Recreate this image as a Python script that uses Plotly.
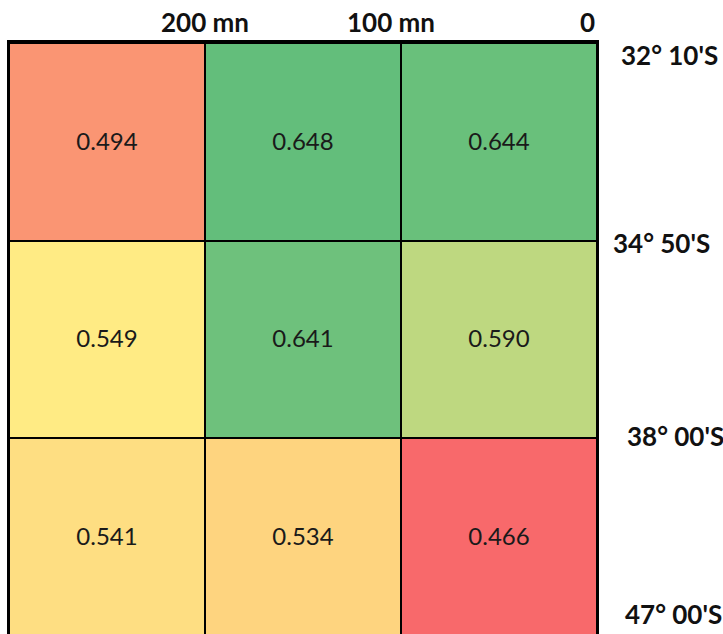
import plotly.graph_objects as go

# Data
col_labels = ["200 mn", "100 mn", "0"]          # distance boundaries (top)
row_labels = ["32° 10'S", "34° 50'S", "38° 00'S", "47° 00'S"]  # latitude boundaries (right)
row1 = [0.494, 0.648, 0.644]
row2 = [0.549, 0.641, 0.590]
row3 = [0.541, 0.534, 0.466]

z = [row1, row2, row3]
allv = row1 + row2 + row3
zmin, zmax = min(allv), max(allv)
zmid = sorted(allv)[len(allv) // 2]
mid = (zmid - zmin) / (zmax - zmin)

colorscale = [[0, "#F8696B"], [mid, "#FFEB84"], [1, "#63BE7B"]]

fig = go.Figure(go.Heatmap(
    z=z, x=[0, 1, 2], y=[0, 1, 2],
    colorscale=colorscale, zmin=zmin, zmax=zmax, showscale=False,
    xgap=2, ygap=2,
    texttemplate="%{z:.3f}",
    textfont=dict(family="Lato, Open Sans, sans-serif", size=24, color="#1a1a1a"),
    hoverinfo="skip",
))

label_font = dict(family="Lato, Open Sans, sans-serif", size=26, color="#111111")

# top labels at column boundaries
col_bounds = [0.5, 1.5, 2.5]
col_anchor = ["center", "center", "right"]
col_xshift = [0, -10, 0]
for lbl, xb, anc, xs in zip(col_labels, col_bounds, col_anchor, col_xshift):
    fig.add_annotation(text=f"<b>{lbl}</b>", x=xb, xref="x", y=1, yref="paper",
                       yanchor="bottom", xanchor=anc, xshift=xs, yshift=3,
                       showarrow=False, font=label_font)

# right labels at row boundaries (paper fractions of the 3 rows)
n_rows = len(row_labels) - 1
row_yshift = [-12, -3, 1, 20]
row_xshift = [22, 14, 28, 26]
for i, (lbl, ys, xs) in enumerate(zip(row_labels, row_yshift, row_xshift)):
    fig.add_annotation(text=f"<b>{lbl}</b>", x=1, xref="paper", y=1 - i / n_rows, yref="paper",
                       xanchor="left", yanchor="middle", xshift=xs, yshift=ys,
                       showarrow=False, font=label_font)

fig.update_xaxes(range=[-0.5, 2.5], showticklabels=False, showgrid=False, zeroline=False,
                 side="top", showline=True, linecolor="black", linewidth=3, mirror=False,
                 ticks="")
fig.update_yaxes(range=[2.49, -0.5], showticklabels=False, showgrid=False, zeroline=False,
                 showline=True, linecolor="black", linewidth=2, mirror=True, ticks="")

fig.update_layout(
    width=723, height=634,
    margin=dict(l=9, r=126, t=43, b=0),
    plot_bgcolor="black", paper_bgcolor="white",
)

fig.write_html("out.html")
